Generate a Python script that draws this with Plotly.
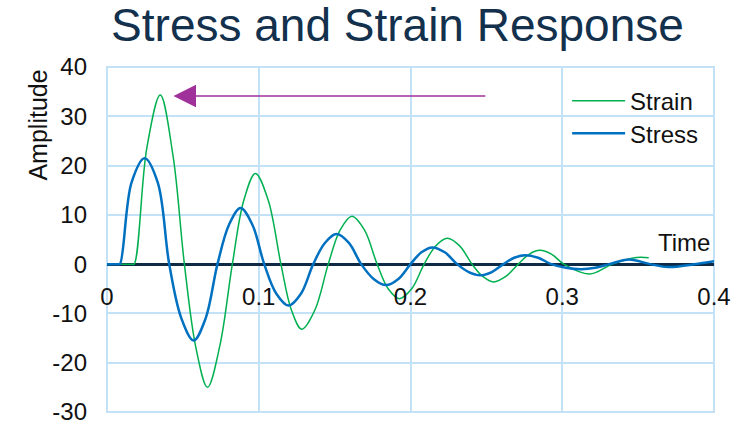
import plotly.graph_objects as go

# Damped response traces (time in s, amplitude) read along each oscillation
strain_t = [0, 0.0165, 0.0179, 0.0262, 0.0351, 0.0435, 0.051, 0.0586, 0.0662, 0.0744,
            0.0826, 0.0902, 0.0978, 0.1062, 0.1146, 0.1215, 0.1283, 0.137, 0.1458, 0.1536,
            0.1614, 0.1697, 0.178, 0.1853, 0.1926, 0.2008, 0.209, 0.2166, 0.2242, 0.2324,
            0.2405, 0.2476, 0.2547, 0.2628, 0.271, 0.2781, 0.2852, 0.2931, 0.301, 0.318,
            0.333, 0.349, 0.357]
strain_v = [0, 0, 0, 23.5, 34.3, 22.0, 0, -17.0, -25.0, -16.5,
            0, 13.0, 18.4, 13.0, 0, -9.3, -13.2, -9.3, 0, 6.9,
            9.7, 6.9, 0, -5.0, -7.0, -5.0, 0, 3.7, 5.25, 3.7,
            0, -2.5, -3.6, -2.5, 0, 2.0, 2.8, 2.0, 0, -2.0,
            0, 1.35, 1.3]

stress_t = [0, 0.0072, 0.0085, 0.0161, 0.0248, 0.0335, 0.041, 0.049, 0.0571, 0.065,
            0.0728, 0.0804, 0.088, 0.0958, 0.1036, 0.1116, 0.1196, 0.1278, 0.1359, 0.1436,
            0.1512, 0.1594, 0.1675, 0.1757, 0.1839, 0.192, 0.2, 0.2072, 0.2144, 0.2226,
            0.2307, 0.2384, 0.246, 0.2536, 0.2612, 0.2683, 0.2754, 0.2841, 0.2928, 0.3025,
            0.3125, 0.3218, 0.331, 0.344, 0.358, 0.37, 0.387, 0.4]
stress_v = [0, 0, 0, 16.5, 21.5, 16.5, 0, -11.0, -15.5, -11.0,
            0, 8.0, 11.4, 8.0, 0, -6.0, -8.4, -6.0, 0, 4.3,
            6.1, 4.3, 0, -3.0, -4.25, -3.0, 0, 2.4, 3.4, 2.4,
            0, -1.6, -2.25, -1.6, 0, 1.3, 1.8, 1.3, 0, -0.75,
            -1.05, -0.75, 0, 0.95, 0, -0.6, 0, 0.6]

x_ticks = [0, 0.1, 0.2, 0.3, 0.4]
x_labels = ["0", "0.1", "0.2", "0.3", "0.4"]
y_ticks = [-30, -20, -10, 0, 10, 20, 30, 40]
y_labels = ["-30", "-20", "-10", "0", "10", "20", "30", "40"]

# Arrow pointing back toward the first strain peak
arrow_tail = (0.2503, 34.1)
arrow_head = (0.0438, 34.1)

FONT = "Liberation Sans, Arial, sans-serif"
GRID = "#c3e2f8"
TEXT = "#111111"

fig = go.Figure()
fig.add_trace(go.Scatter(x=strain_t, y=strain_v, name="Strain", mode="lines",
                         line=dict(color="#00b050", width=1.5, shape="spline",
                                   smoothing=1.0),
                         legend="legend"))
fig.add_trace(go.Scatter(x=stress_t, y=stress_v, name="Stress", mode="lines",
                         line=dict(color="#0070c0", width=2.5, shape="spline",
                                   smoothing=1.0),
                         legend="legend2"))

legend_style = dict(xanchor="left", yanchor="top", bgcolor="rgba(0,0,0,0)",
                    font=dict(size=24, color=TEXT), itemwidth=53)

fig.update_layout(
    width=743, height=437,
    margin=dict(l=107, r=24, t=67, b=19),
    paper_bgcolor="white", plot_bgcolor="white",
    font=dict(family=FONT, size=24, color=TEXT),
    title=dict(text="Stress and Strain Response", x=0.535, xanchor="center",
               y=1 - 25 / 437, yanchor="middle",
               font=dict(size=46, color="#13304d", family=FONT)),
    xaxis=dict(range=[0, 0.4], tickvals=x_ticks, ticktext=x_labels,
               showgrid=True, gridcolor=GRID, gridwidth=2,
               zeroline=False, showline=False, ticks="",
               anchor="free", position=30 / 70, ticklabelstandoff=16,
               tickfont=dict(size=24, color=TEXT)),
    yaxis=dict(range=[-30, 40], tickvals=y_ticks, ticktext=y_labels,
               showgrid=True, gridcolor=GRID, gridwidth=2,
               zeroline=True, zerolinecolor="#0e2a45", zerolinewidth=2.5,
               showline=False, ticks="", ticklabelstandoff=19,
               tickfont=dict(size=24, color=TEXT)),
    legend=dict(x=0.758, y=0.966, **legend_style),
    legend2=dict(x=0.758, y=0.872, **legend_style),
    showlegend=True,
)

# plot-area border
fig.add_shape(type="rect", xref="paper", yref="paper", x0=0, y0=0, x1=1, y1=1,
              line=dict(color=GRID, width=2), layer="below")

fig.add_annotation(x=arrow_head[0], y=arrow_head[1], ax=arrow_tail[0], ay=arrow_tail[1],
                   xref="x", yref="y", axref="x", ayref="y", text="",
                   showarrow=True, arrowhead=2, arrowsize=3, arrowwidth=1.5,
                   arrowcolor="#a0309a", standoff=0)

fig.add_annotation(text="Time", x=0.399, y=4.3, xref="x", yref="y",
                   xanchor="right", yanchor="middle", showarrow=False,
                   font=dict(size=24, color=TEXT))

# vertical axis caption, placed near the top of the value axis
fig.add_annotation(text="Amplitude", x=(37 - 107) / 612, y=(418 - 126) / 351,
                   xref="paper", yref="paper", xanchor="center", yanchor="middle",
                   showarrow=False, textangle=-90, font=dict(size=25, color=TEXT))

fig.write_html("out.html")
